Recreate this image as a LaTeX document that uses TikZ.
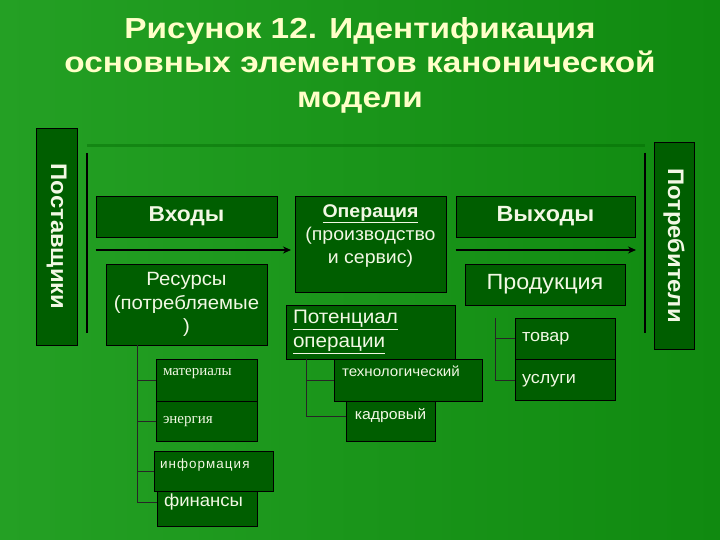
\documentclass[tikz,border=0pt]{standalone}
\usepackage{fontspec}
\setmainfont{Liberation Sans}[FakeStretch=1.06]
\newfontfamily\titlefont{Liberation Sans}[FakeStretch=1.15]
\newfontfamily\serifru{Liberation Serif}
\newfontfamily\spacedru[LetterSpace=8]{Liberation Sans}
\usetikzlibrary{positioning,arrows.meta}
\definecolor{bgleft}{RGB}{36,160,36}
\definecolor{bgright}{RGB}{16,138,16}
\definecolor{boxgreen}{RGB}{0,94,0}
\definecolor{titlecol}{RGB}{255,255,200}
\definecolor{textcol}{RGB}{242,248,228}

\begin{document}
\begin{tikzpicture}
        [x=1pt,y=-1pt,
        every node/.style={inner sep=0pt,text=textcol},
        box/.style={draw=black,line width=0.8pt,fill=boxgreen},
        side/.style={box,rotate=-90,minimum height=41pt,
                     font=\bfseries\fontsize{22.5}{22.5}\selectfont},
        lft/.style={align=left,inner xsep=7pt,text width=#1},
        flow/.style={line width=2pt,-{Stealth[length=8pt,width=7pt]}},
        bar/.style={line width=2pt},
        tree/.style={draw=black!85,line width=0.8pt}]
        \useasboundingbox (0,0) rectangle (720,540);
        \shade[left color=bgleft,right color=bgright] (0,0) rectangle (720,540);

        \node[font=\titlefont\bfseries\fontsize{29}{34.5}\selectfont,text=titlecol,align=center]
            (title) at (360,65) {Рисунок 12. Идентификация\\основных элементов канонической\\модели};

        \coordinate (lt) at (87,153);
        \coordinate (lb) at (87,333);
        \coordinate (rt) at (645,153);
        \coordinate (rb) at (645,333);
        \draw[draw=black!60!green,line width=3pt,opacity=0.4] ([yshift=7pt]lt) -- ([yshift=7pt]rt);
        \draw[bar] (lt) -- (lb);
        \draw[bar] (rt) -- (rb);

        \node[side,minimum width=217pt] (postav) at (56.5,236.5) {Поставщики};
        \node[side,minimum width=207pt,minimum height=40pt] (potreb) at (674,245.5) {Потребители};

        \node[box,minimum width=181pt,minimum height=41pt,
              font=\bfseries\fontsize{21.5}{21.5}\selectfont] (vhody) at (186.5,216.5) {Входы};
        \node[box,minimum width=179pt,minimum height=41pt,
              font=\bfseries\fontsize{22}{22}\selectfont] (vyhody) at (545.5,216.5) {Выходы};

        \coordinate (inend) at (291,250);
        \coordinate (outend) at (636,250);
        \draw[flow] (vhody.south west |- inend) -- (inend);
        \draw[flow] (vyhody.south west |- outend) -- (outend);

        \node[box,minimum width=161pt,minimum height=81pt,align=center,
              font=\fontsize{19.2}{23.5}\selectfont] (resursy) at (186.5,304.5)
              {Ресурсы\\(потребляемые\\)};
        \node[box,minimum width=151pt,minimum height=96pt,align=center,text depth=20pt,
              font=\fontsize{18.4}{23}\selectfont] (oper) at (370.5,244)
              {\textbf{\underline{Операция}}\\(производство\\и сервис)};
        \node[box,minimum width=169pt,minimum height=54pt,lft=155pt,
              font=\fontsize{19.5}{24}\selectfont] (potenc) at (370.5,332)
              {\underline{Потенциал}\\\underline{операции}};
        \node[box,minimum width=160pt,minimum height=41pt,
              font=\fontsize{22}{22}\selectfont] (produk) at (545,284.5) {Продукция};

        \node[box,minimum width=100pt,minimum height=41pt,lft=86pt,
              font=\fontsize{17}{17}\selectfont] (tovar) at (565,338.5) {товар};
        \node[box,minimum width=100pt,minimum height=41pt,lft=86pt,below=0pt of tovar,
              font=\fontsize{17}{17}\selectfont] (uslugi) {услуги};

        \node[box,minimum width=101pt,minimum height=42pt,lft=87pt,text depth=17pt,
              font=\serifru\fontsize{15}{15}\selectfont] (mater) at (206.5,380) {материалы};
        \node[box,minimum width=101pt,minimum height=40pt,lft=87pt,below=0pt of mater,
              font=\serifru\fontsize{15}{15}\selectfont] (energ) {энергия};
        \node[box,minimum width=100pt,minimum height=48pt,lft=86pt,
              font=\fontsize{17.5}{17.5}\selectfont] (finans) at (207,502) {финансы};
        \node[box,minimum width=119pt,minimum height=40pt,lft=107pt,inner xsep=6pt,text depth=15pt,
              font=\spacedru\fontsize{13.4}{13.4}\selectfont] (inform) at (213.5,471) {информация};

        \node[box,minimum width=89pt,minimum height=50pt,
              font=\fontsize{14.9}{14.9}\selectfont] (kadr) at (390.5,416) {кадровый};
        \node[box,minimum width=146pt,minimum height=42pt,lft=132pt,inner xsep=8pt,text depth=17pt,
              font=\fontsize{14.3}{14.3}\selectfont] (tehn) at (408,380) {технологический};

        \coordinate (rroot) at (137,345);
        \draw[tree] (rroot) |- (finans.west);
        \foreach \n in {mater,energ,inform}
            \draw[tree] (rroot |- \n.west) -- (\n.west);
        \coordinate (proot) at (306,359);
        \draw[tree] (proot) |- (kadr.west);
        \draw[tree] (proot |- tehn.west) -- (tehn.west);
        \coordinate (troot) at (495,318);
        \draw[tree] (troot) |- (uslugi.west);
        \draw[tree] (troot |- tovar.west) -- (tovar.west);
\end{tikzpicture}
\end{document}
